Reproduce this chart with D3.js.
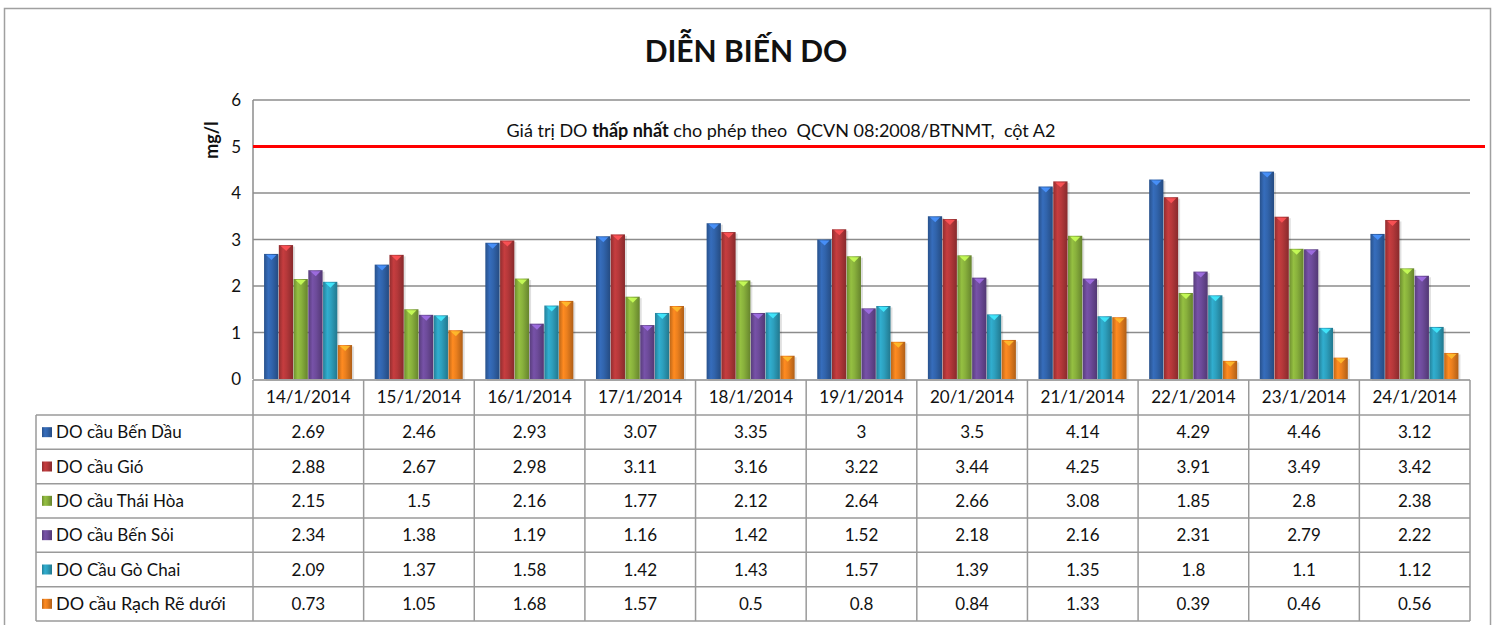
<!DOCTYPE html>
<html>
<head>
<meta charset="utf-8">
<script src="https://cdn.jsdelivr.net/npm/d3@7"></script>
<style>
  body { margin: 0; background: #fff; }
  text { font-family: Lato, "Open Sans", sans-serif; fill: #111; }
</style>
</head>
<body>
<div id="chart"></div>
<script>
// data
const dates = ["14/1/2014", "15/1/2014", "16/1/2014", "17/1/2014", "18/1/2014", "19/1/2014",
  "20/1/2014", "21/1/2014", "22/1/2014", "23/1/2014", "24/1/2014"];
const seriesNames = ["DO cầu Bến Dầu", "DO cầu Gió", "DO cầu Thái Hòa", "DO cầu Bến Sỏi",
  "DO Cầu Gò Chai", "DO cầu Rạch Rẽ dưới"];
const benDau = [2.69, 2.46, 2.93, 3.07, 3.35, 3, 3.5, 4.14, 4.29, 4.46, 3.12];
const gio = [2.88, 2.67, 2.98, 3.11, 3.16, 3.22, 3.44, 4.25, 3.91, 3.49, 3.42];
const thaiHoa = [2.15, 1.5, 2.16, 1.77, 2.12, 2.64, 2.66, 3.08, 1.85, 2.8, 2.38];
const benSoi = [2.34, 1.38, 1.19, 1.16, 1.42, 1.52, 2.18, 2.16, 2.31, 2.79, 2.22];
const goChai = [2.09, 1.37, 1.58, 1.42, 1.43, 1.57, 1.39, 1.35, 1.8, 1.1, 1.12];
const rachRe = [0.73, 1.05, 1.68, 1.57, 0.5, 0.8, 0.84, 1.33, 0.39, 0.46, 0.56];
const yTicks = [0, 1, 2, 3, 4, 5, 6];
const limitValue = 5;

const allSeries = [benDau, gio, thaiHoa, benSoi, goChai, rachRe];
const colors = ["#3164ac", "#b5383a", "#88b03c", "#6d4b9a", "#2d9fbd", "#ea7f1e"];

const width = 1492, height = 625;
const svg = d3.select("#chart").append("svg")
  .attr("width", width).attr("height", height);

// outer frame
svg.append("rect")
  .attr("x", 4.5).attr("y", 8.5).attr("width", 1486).attr("height", 640)
  .attr("fill", "none").attr("stroke", "#a0a0a0").attr("stroke-width", 1.5);

const plotLeft = 253, plotRight = 1470, plotTop = 100, plotBottom = 379;

const x0 = d3.scaleBand().domain(dates).range([plotLeft, plotRight]);
const x1 = d3.scaleBand().domain(d3.range(seriesNames.length))
  .range([x0.bandwidth() * 0.1, x0.bandwidth() * 0.9]);
const y = d3.scaleLinear().domain([0, 6]).range([plotBottom, plotTop]);

// gradients for bars
const defs = svg.append("defs");
colors.forEach((c, i) => {
  const g = defs.append("linearGradient").attr("id", "grad" + i)
    .attr("x1", "0%").attr("x2", "100%").attr("y1", "0%").attr("y2", "0%");
  const base = d3.color(c);
  g.append("stop").attr("offset", "0%").attr("stop-color", base.darker(0.6));
  g.append("stop").attr("offset", "30%").attr("stop-color", base.brighter(0.25));
  g.append("stop").attr("offset", "55%").attr("stop-color", base);
  g.append("stop").attr("offset", "100%").attr("stop-color", base.darker(0.8));
});

// gridlines
svg.append("g").selectAll("line").data(yTicks.filter(d => d > 0)).join("line")
  .attr("x1", plotLeft).attr("x2", plotRight)
  .attr("y1", d => y(d)).attr("y2", d => y(d))
  .attr("stroke", "#8c8c8c").attr("stroke-width", 1.5);

// left axis line
svg.append("line").attr("x1", plotLeft).attr("x2", plotLeft)
  .attr("y1", plotTop).attr("y2", plotBottom)
  .attr("stroke", "#8c8c8c").attr("stroke-width", 1.5);

// y tick labels
svg.append("g").selectAll("text").data(yTicks).join("text")
  .attr("x", 241).attr("y", d => y(d) + 6)
  .attr("text-anchor", "end").style("font-size", "17px")
  .text(d => d);

// y axis title
svg.append("text")
  .attr("transform", "translate(218,140) rotate(-90)")
  .attr("text-anchor", "middle").style("font-size", "18px").style("font-weight", "bold")
  .text("mg/l");

// title
svg.append("text").attr("x", 746).attr("y", 62)
  .attr("text-anchor", "middle").style("font-size", "30px").style("font-weight", "bold")
  .text("DIỄN BIẾN DO");

// bars
const groups = svg.append("g").selectAll("g").data(dates).join("g")
  .attr("transform", d => `translate(${x0(d)},0)`);

groups.each(function(date, di) {
  const g = d3.select(this);
  allSeries.forEach((vals, si) => {
    const v = vals[di];
    const bx = x1(si), bw = x1.bandwidth();
    g.append("rect")
      .attr("x", bx + 1.5).attr("y", y(v) + 1.5)
      .attr("width", bw).attr("height", y(0) - y(v))
      .attr("fill", "#000").attr("opacity", 0.12);
    g.append("rect")
      .attr("x", bx).attr("y", y(v))
      .attr("width", bw - 0.5).attr("height", y(0) - y(v))
      .attr("fill", `url(#grad${si})`);
    const light = d3.color(colors[si]).brighter(1.1);
    g.append("path")
      .attr("d", `M${bx + 2},${y(v) + 1} L${bx + bw - 2.5},${y(v) + 1} L${bx + bw / 2},${y(v) + 6} Z`)
      .attr("fill", light).attr("opacity", 0.9);
  });
});

// x axis line
svg.append("line").attr("x1", plotLeft).attr("x2", plotRight)
  .attr("y1", 380).attr("y2", 380)
  .attr("stroke", "#8c8c8c").attr("stroke-width", 1.5);

// limit line and note
svg.append("line").attr("x1", plotLeft).attr("x2", 1485)
  .attr("y1", y(limitValue)).attr("y2", y(limitValue))
  .attr("stroke", "#ff0000").attr("stroke-width", 3);

const note = svg.append("text").attr("x", 781).attr("y", 137)
  .attr("text-anchor", "middle").style("font-size", "18px")
  .style("white-space", "pre");
note.append("tspan").text("Giá trị DO ");
note.append("tspan").style("font-weight", "bold").text("thấp nhất");
note.append("tspan").text(" cho phép theo  QCVN 08:2008/BTNMT,  cột A2");

// data table
const tableLeft = 36, headerTop = 380, rowTop = 415, tableBottom = 621;
const rowH = (tableBottom - rowTop) / seriesNames.length;
const gridColor = "#9a9a9a";
const table = svg.append("g");

// horizontal lines
table.selectAll("line.h").data(d3.range(seriesNames.length + 1)).join("line")
  .attr("class", "h")
  .attr("x1", tableLeft).attr("x2", plotRight)
  .attr("y1", i => rowTop + i * rowH).attr("y2", i => rowTop + i * rowH)
  .attr("stroke", gridColor).attr("stroke-width", 1.5);

// vertical lines
const vx = dates.map(d => x0(d)).concat([plotRight]);
table.selectAll("line.v").data(vx).join("line")
  .attr("class", "v")
  .attr("x1", d => d).attr("x2", d => d)
  .attr("y1", headerTop).attr("y2", tableBottom)
  .attr("stroke", gridColor).attr("stroke-width", 1.5);
table.append("line").attr("x1", tableLeft).attr("x2", tableLeft)
  .attr("y1", rowTop).attr("y2", tableBottom)
  .attr("stroke", gridColor).attr("stroke-width", 1.5);

// header labels
table.selectAll("text.hd").data(dates).join("text")
  .attr("class", "hd")
  .attr("x", d => x0(d) + x0.bandwidth() / 2).attr("y", 403)
  .attr("text-anchor", "middle").style("font-size", "17px")
  .text(d => d);

// rows
seriesNames.forEach((name, si) => {
  const cy = rowTop + si * rowH + rowH / 2;
  table.append("rect")
    .attr("x", 42).attr("y", cy - 5).attr("width", 10).attr("height", 10)
    .attr("fill", `url(#grad${si})`);
  table.append("text")
    .attr("x", 56).attr("y", cy + 6)
    .style("font-size", si === 5 ? "18px" : "17px")
    .text(name);
  table.selectAll(null).data(allSeries[si]).join("text")
    .attr("x", (d, i) => x0(dates[i]) + x0.bandwidth() / 2).attr("y", cy + 6)
    .attr("text-anchor", "middle").style("font-size", "17px")
    .text(d => String(d));
});
</script>
</body>
</html>
